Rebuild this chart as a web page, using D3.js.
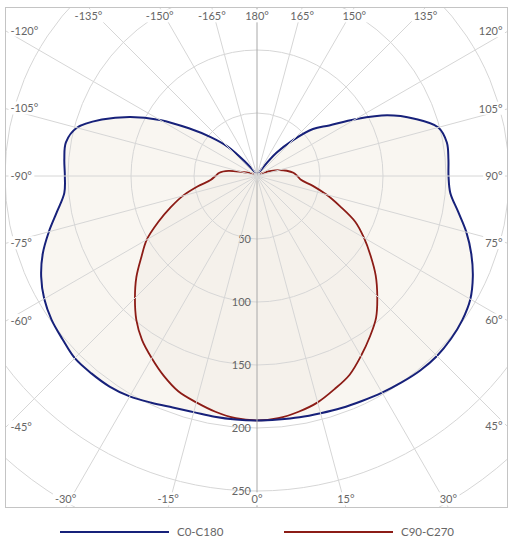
<!DOCTYPE html>
<html>
<head>
<meta charset="utf-8">
<script src="https://cdn.jsdelivr.net/npm/d3@7"></script>
<style>
  body { margin: 0; background: #fff; }
  text { font-family: Lato, "Open Sans", sans-serif; fill: #666; }
</style>
</head>
<body>
<div id="chart"></div>
<script>
// gamma angles of one half-plane (degrees from nadir)
var angles = [0, 5, 10, 15, 20, 25, 30, 35, 40, 45, 50, 55, 60, 65, 70, 75, 80, 85, 90,
  95, 100, 105, 110, 115, 120, 125, 130, 135, 140, 145, 150, 155, 160, 165, 170, 175, 180];

// C0-C180 (blue): C0 on the right, C180 on the left
var c0 = [194, 194, 194.5, 195, 196, 197, 198.5, 200, 201.5, 202, 201, 199, 195.5, 189, 181, 172, 162, 154, 152,
  152.5, 153, 149, 133, 114, 90, 70, 58, 40, 24, 8, 3, 2, 2, 2, 2, 2, 2];
var c180 = [194, 194, 194, 194, 195.5, 198.5, 202, 204, 204.5, 204.5, 201.5, 199, 195, 189, 181, 171, 161, 153.5, 152.5,
  153.5, 154, 148, 131, 111, 89, 66, 48, 33, 15, 6, 3, 2, 2, 2, 2, 2, 2];

// C90-C270 (red): C90 on the right, C270 on the left
var c90 = [194, 193, 190, 186, 180, 174, 165, 156, 147, 135, 123, 110, 98, 86, 70, 57, 45, 35, 32,
  29, 24, 18, 12, 7, 4, 3, 2, 2, 2, 2, 2, 2, 2, 2, 2, 2, 2];
var c270 = [194, 193, 190, 186, 182, 175, 167, 159, 149, 137, 125, 112, 101, 86.5, 73, 61, 48, 37, 33,
  30, 23, 12, 8, 5, 3, 2, 2, 2, 2, 2, 2, 2, 2, 2, 2, 2, 2];

var rings = [50, 100, 150, 200, 250, 300];
var ringLabels = [50, 100, 150, 200, 250];
var spokes = [0, 15, 30, 45, 60, 75, 90, 105, 120, 135, 150, 165, 180,
  -15, -30, -45, -60, -75, -90, -105, -120, -135, -150, -165];

var seriesNames = ["C0-C180", "C90-C270"];
var seriesColors = ["#17217a", "#8c1c16"];

var W = 517, H = 547;
var box = {x0: 5.5, y0: 7.5, x1: 507.5, y1: 507.5};
var cx = 257, cy = 176;

var svg = d3.select("#chart").append("svg").attr("width", W).attr("height", H)
svg.append("defs").append("clipPath").attr("id", "plotclip")
  .append("rect").attr("x", box.x0).attr("y", box.y0).attr("width", box.x1 - box.x0).attr("height", box.y1 - box.y0)

var r = d3.scaleLinear().domain([0, 50]).range([0, 63]);
var g = svg.append("g").attr("clip-path", "url(#plotclip)")
var plot = g.append("g").attr("transform", "translate(" + cx + "," + cy + ")")

// join two half planes into one closed curve, left side negative
function plane(right, left) {
  var pts = [];
  for (var i = angles.length - 1; i > 0; i--) pts.push([-angles[i], left[i]]);
  for (var j = 0; j < angles.length - 1; j++) pts.push([angles[j], right[j]]);
  return pts;
}
var blue = plane(c0, c180);
var red = plane(c90, c270);

var line = d3.lineRadial()
  .angle(function(d) { return Math.PI - d[0] * Math.PI / 180 })
  .radius(function(d) { return r(d[1]) })
  .curve(d3.curveCatmullRomClosed.alpha(0.5));

// fills
plot.append("path").attr("d", line(blue)).attr("fill", "#f9f6f1")
plot.append("path").attr("d", line(red)).attr("fill", "#f4f0ea").attr("opacity", 0.8)

// rings
plot.selectAll("circle.ring").data(rings).enter().append("circle")
  .attr("class", "ring").attr("r", function(d) { return r(d) })
  .attr("fill", "none").attr("stroke", "#d6d6d6").attr("stroke-width", 1)

// where a spoke meets the frame
function edge(a) {
  var s = Math.sin(a * Math.PI / 180), c = Math.cos(a * Math.PI / 180);
  var tx = Math.abs(s) < 1e-9 ? Infinity : ((s > 0 ? box.x1 : box.x0) - cx) / s;
  var ty = Math.abs(c) < 1e-9 ? Infinity : ((c > 0 ? box.y1 : box.y0) - cy) / c;
  var t = Math.min(tx, ty);
  return {x: cx + s * t, y: cy + c * t, side: tx < ty ? (s > 0 ? "right" : "left") : (c > 0 ? "bottom" : "top")};
}

g.selectAll("line.spoke").data(spokes).enter().append("line")
  .attr("class", "spoke")
  .attr("x1", cx).attr("y1", cy)
  .attr("x2", function(d) { return edge(d).x })
  .attr("y2", function(d) { return edge(d).y })
  .attr("stroke", function(d) { return (d == 0 || d == 180) ? "#a8a8a8" : "#d6d6d6" })
  .attr("stroke-width", 1)

// curves
plot.append("path").attr("d", line(red)).attr("fill", "none")
  .attr("stroke", seriesColors[1]).attr("stroke-width", 1.8)
plot.append("path").attr("d", line(blue)).attr("fill", "none")
  .attr("stroke", seriesColors[0]).attr("stroke-width", 2)

// ring labels
plot.selectAll("text.rl").data(ringLabels).enter().append("text")
  .attr("class", "rl")
  .attr("x", -6).attr("y", function(d) { return r(d) })
  .attr("dy", "0.35em").attr("text-anchor", "end")
  .style("font-size", "11px")
  .text(function(d) { return d })

// frame
svg.append("rect").attr("x", box.x0).attr("y", box.y0)
  .attr("width", box.x1 - box.x0).attr("height", box.y1 - box.y0)
  .attr("fill", "none").attr("stroke", "#c4c4c4")

// angle labels on the frame
var lab = svg.append("g")
spokes.forEach(function(a) {
  var e = edge(a);
  var x = e.x, y = e.y, anchor = "middle";
  if (e.side == "left") { x = box.x0 + 5; anchor = "start" }
  if (e.side == "right") { x = box.x1 - 5; anchor = "end" }
  if (e.side == "top") { y = box.y0 + 9 }
  if (e.side == "bottom") { y = box.y1 - 8 }
  var gg = lab.append("g")
  var t = gg.append("text").attr("x", x).attr("y", y).attr("dy", "0.35em")
    .attr("text-anchor", anchor).style("font-size", "11px")
    .text((a == 180 ? "180" : a) + "°")
  var bb = t.node().getBBox();
  gg.insert("rect", "text").attr("x", bb.x - 2).attr("y", bb.y)
    .attr("width", bb.width + 4).attr("height", bb.height).attr("fill", "#fff")
})

// legend
var legX = [60, 284];
var leg = svg.selectAll("g.leg").data(seriesNames).enter().append("g").attr("class", "leg")
  .attr("transform", function(d, i) { return "translate(" + legX[i] + ",532)" })
leg.append("line").attr("x1", 0).attr("x2", 109).attr("y1", 0).attr("y2", 0)
  .attr("stroke", function(d, i) { return seriesColors[i] }).attr("stroke-width", 2)
leg.append("text").attr("x", 117).attr("dy", "0.35em").style("font-size", "11.5px")
  .text(function(d) { return d })
</script>
</body>
</html>
